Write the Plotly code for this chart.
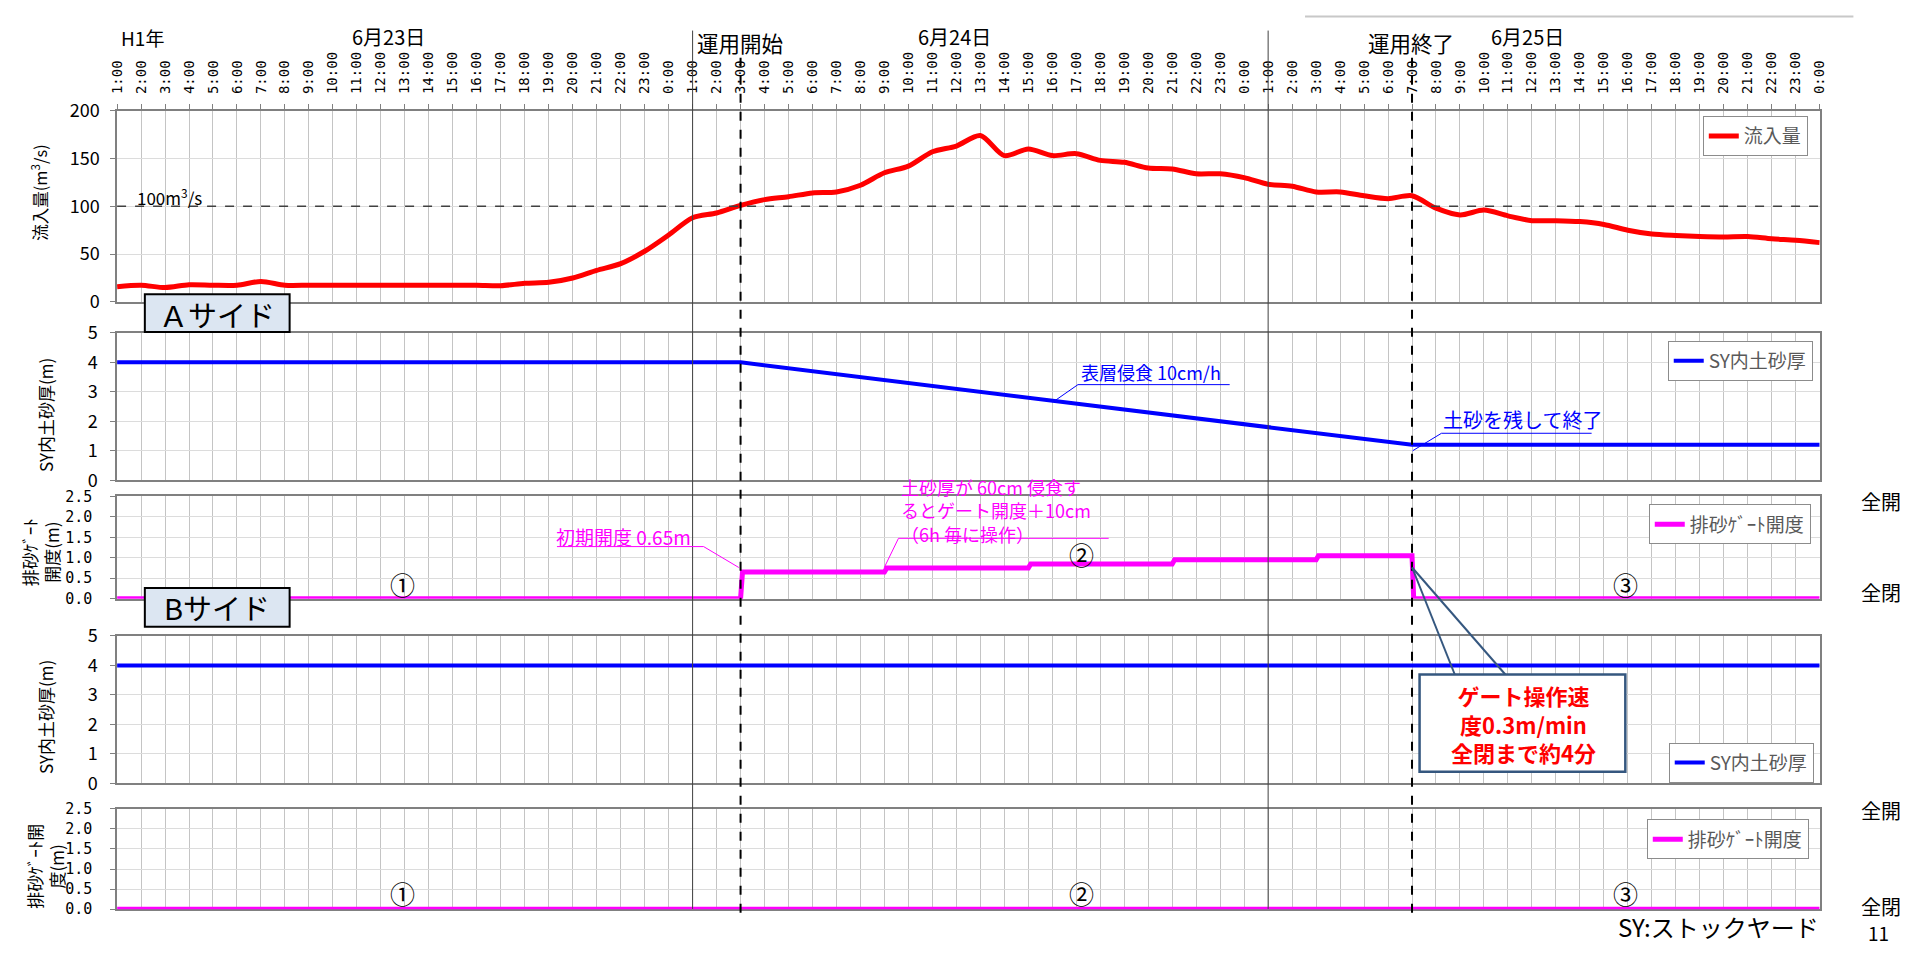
import plotly.graph_objects as go

W, H = 1909, 953
FONT = "Noto Sans CJK JP"
MONO = "DejaVu Sans Mono"

# ---------------- data ----------------
hours = list(range(72))                      # 6/23 1:00 ... 6/26 0:00 (hourly)
tick_labels = [f"{(h + 1) % 24}:00" for h in hours]

inflow = [16, 17.5, 15, 18, 17.5, 17.5, 21.5, 17.5, 17.5, 17.5, 17.5, 17.5, 17.5,
          17.5, 17.5, 17.5, 17, 19.5, 20.5, 25, 33, 40, 53, 70, 88, 93,
          101, 107, 110, 114, 115, 122, 135, 142, 157, 163, 174, 153, 160, 153,
          155, 148, 146, 140, 139, 134, 134, 130, 123, 121, 115, 115, 111, 108, 111,
          98, 91, 96, 90, 85, 85, 84, 81, 75, 71, 69.5, 68.5, 68, 68.5, 66, 64.5, 62]

sy_a_time = [0, 26, 54, 71]
sy_a_val = [4.0, 4.0, 1.2, 1.2]

gate_a_time = [0, 26, 26.08, 32, 32.1, 38, 38.1, 44, 44.1, 50, 50.1, 54.0, 54.07, 71]
gate_a_val = [0, 0, 0.65, 0.65, 0.75, 0.75, 0.85, 0.85, 0.95, 0.95, 1.05, 1.05, 0, 0]

sy_b_time = [0, 71]
sy_b_val = [4.0, 4.0]

gate_b_time = [0, 71]
gate_b_val = [0.0, 0.0]

day_lines = [24, 48]          # day separators
op_lines = [26, 54]           # 運用開始 / 運用終了
threshold = 100

# ---------------- helpers (pixel -> paper) ----------------
def px(x):
    return x / W

def py(y):
    return 1 - y / H

def dom(top, bottom):
    return [py(bottom), py(top)]

XDOM = [px(110), px(1827)]
panels = [(98.3, 295), (326.7, 478.3), (495, 600), (638.3, 790), (816, 919.3)]

fig = go.Figure()

fig.add_trace(go.Scatter(x=hours, y=inflow, mode="lines", name="流入量",
                         line=dict(color="#ff0000", width=5, shape="spline", smoothing=0.8),
                         xaxis="x", yaxis="y", legend="legend"))
fig.add_trace(go.Scatter(x=sy_a_time, y=sy_a_val, mode="lines", name="SY内土砂厚",
                         line=dict(color="#0000ff", width=4), cliponaxis=False,
                         xaxis="x2", yaxis="y2", legend="legend2"))
fig.add_trace(go.Scatter(x=gate_a_time, y=gate_a_val, mode="lines", name="排砂ｹﾞｰﾄ開度",
                         line=dict(color="#ff00ff", width=5), cliponaxis=False,
                         xaxis="x3", yaxis="y3", legend="legend3"))
fig.add_trace(go.Scatter(x=sy_b_time, y=sy_b_val, mode="lines", name="SY内土砂厚",
                         line=dict(color="#0000ff", width=4), cliponaxis=False,
                         xaxis="x4", yaxis="y4", legend="legend4"))
fig.add_trace(go.Scatter(x=gate_b_time, y=gate_b_val, mode="lines", name="排砂ｹﾞｰﾄ開度",
                         line=dict(color="#ff00ff", width=5), cliponaxis=False,
                         xaxis="x5", yaxis="y5", legend="legend5"))

GRIDX = "#c4c4c4"
GRIDY = "#dcdcdc"
AXC = "#808080"

layout = dict(width=W, height=H, margin=dict(l=0, r=0, t=0, b=0),
              paper_bgcolor="white", plot_bgcolor="white",
              font=dict(family=FONT, color="#000000"), showlegend=True)

yspecs = [
    dict(range=[0, 200], dtick=50, tickformat="d", ticklabelstandoff=7,
         tickfont=dict(size=18, family=FONT)),
    dict(range=[0, 5], dtick=1, tickformat="d", ticklabelstandoff=9,
         tickfont=dict(size=18, family=FONT)),
    dict(range=[0, 2.5], dtick=0.5, tickformat=".1f", ticklabelstandoff=15,
         tickfont=dict(size=15, family=MONO)),
    dict(range=[0, 5], dtick=1, tickformat="d", ticklabelstandoff=9,
         tickfont=dict(size=18, family=FONT)),
    dict(range=[0, 2.5], dtick=0.5, tickformat=".1f", ticklabelstandoff=15,
         tickfont=dict(size=15, family=MONO)),
]

for i, (top, bot) in enumerate(panels):
    n = "" if i == 0 else str(i + 1)
    xa = dict(domain=XDOM, range=[0, 71], anchor="y" + n, tickmode="array",
              tickvals=hours, ticktext=tick_labels, showgrid=True, gridcolor=GRIDX,
              gridwidth=1, showline=True, linecolor=AXC, linewidth=1.5, mirror=True,
              zeroline=False, layer="below traces")
    if i == 0:
        xa.update(side="top", tickangle=-90, ticks="outside", ticklen=5, tickcolor=AXC,
                  ticklabelstandoff=7,
                  tickfont=dict(family=MONO, size=14, color="#000000"))
    else:
        xa.update(showticklabels=False, ticks="", matches="x")
    layout["xaxis" + n] = xa
    ya = dict(domain=dom(top, bot), anchor="x" + n, showgrid=True, gridcolor=GRIDY,
              showline=True, linecolor=AXC, linewidth=1.5, mirror=True, zeroline=False,
              ticks="outside", ticklen=5, tickcolor=AXC, layer="below traces")
    ya.update(yspecs[i])
    layout["yaxis" + n] = ya

leg_common = dict(xanchor="right", yanchor="top", bgcolor="white", bordercolor="#8c8c8c",
                  borderwidth=1, font=dict(size=19, color="#595959", family=FONT),
                  itemwidth=30)
legend_pos = [(1815, 104), (1820, 335), (1818, 503), (1821, 748), (1816, 827)]
for i, (lx, ly) in enumerate(legend_pos):
    key = "legend" if i == 0 else f"legend{i + 1}"
    d = dict(leg_common)
    d.update(x=px(lx), y=py(ly))
    layout[key] = d

fig.update_layout(**layout)

shapes = []
annots = []

def text(t, x, y, size, color="#000000", xa="center", ya="middle", angle=0, align="center"):
    annots.append(dict(xref="paper", yref="paper", x=px(x), y=py(y), text=t, showarrow=False,
                       xanchor=xa, yanchor=ya, textangle=angle, align=align,
                       font=dict(size=size, color=color)))

def seg(x0, y0, x1, y1, color, width=1, ref=("paper", "paper"), dash=None):
    ln = dict(color=color, width=width)
    if dash:
        ln["dash"] = dash
    if ref == ("paper", "paper"):
        x0, x1, y0, y1 = px(x0), px(x1), py(y0), py(y1)
    shapes.append(dict(type="line", xref=ref[0], yref=ref[1], x0=x0, x1=x1, y0=y0, y1=y1, line=ln))

# day separators & operation lines
for d in day_lines:
    shapes.append(dict(type="line", xref="x", yref="paper", x0=d, x1=d, y0=py(16), y1=py(919),
                       line=dict(color="#404040", width=1)))
for d in op_lines:
    shapes.append(dict(type="line", xref="x", yref="paper", x0=d, x1=d, y0=py(44), y1=py(923),
                       line=dict(color="#000000", width=2, dash="dash")))

# threshold line
seg(0, threshold, 71, threshold, "#404040", 1.5, ref=("x", "y"), dash="dash")
annots.append(dict(xref="x", yref="y", x=0.73, y=110, text="100m<sup>3</sup>/s", showarrow=False,
                   xanchor="left", yanchor="middle", font=dict(size=17, color="#000000")))

# top gray line
seg(1308, 1.5, 1861, 1.5, "#c8c8c8", 2)

# side boxes
for (label, y0, y1, ty) in [("Ａサイド", 287, 326, 307), ("Bサイド", 589, 629, 609)]:
    shapes.append(dict(type="rect", xref="paper", yref="paper", x0=px(138), x1=px(284),
                       y0=py(y1), y1=py(y0), fillcolor="#dce6f2",
                       line=dict(color="#000000", width=2)))
    text(label, 211, ty, 29)

# header texts
text("H1年", 136, 23.5, 19)
text("6月23日", 384, 22.5, 20)
text("運用開始", 738, 28.5, 21.5)
text("6月24日", 954, 22.5, 20)
text("運用終了", 1414.5, 28.5, 21.5)
text("6月25日", 1532, 22.5, 20)

# y-axis titles
text("流入量(m<sup>3</sup>/s)", 31, 182, 16.5, angle=-90)
text("SY内土砂厚(m)", 38.5, 411, 17, angle=-90)
text("排砂ｹﾞｰﾄ<br>開度(m)", 33.5, 552, 17, angle=-90)
text("SY内土砂厚(m)", 38, 722, 17, angle=-90)
text("排砂ｹﾞｰﾄ開<br>度(m)", 37, 875, 17, angle=-90)

# right side labels
for t, y in [("全開", 500), ("全閉", 593.5), ("全開", 818), ("全閉", 916.5)]:
    text(t, 1867, y, 20, xa="left")
text("SY:ストックヤード", 1828, 937.5, 24, xa="right")
text("11", 1886, 943.5, 19)

# circled numbers
for xr, yr, yv in [("x3", "y3", 0.36), ("x5", "y5", 0.41)]:
    for t, hv in [("①", 11.9), ("②", 40.2), ("③", 62.9)]:
        yy = 1.1 if (t == "②" and xr == "x3") else yv
        annots.append(dict(xref=xr, yref=yr, x=hv, y=yy, text=t, showarrow=False,
                           xanchor="center", yanchor="middle", font=dict(size=25, color="#000000")))

# blue annotations (panel 2)
BLUE = "#0000ff"
text("表層侵食 10cm/h", 1080, 367.5, 18, color=BLUE, xa="left")
seg(1079, 380, 1232, 380, BLUE)
seg(1079, 380, 1053.6, 398, BLUE)
text("土砂を残して終了", 1445, 416, 20, color=BLUE, xa="left")
seg(1445.6, 430, 1597, 430, BLUE)
seg(1445.6, 430, 1416.5, 448, BLUE)

# magenta annotations (panel 3)
MAG = "#ff00ff"
text("初期開度 0.65m", 551, 536, 19, color=MAG, xa="left")
seg(553.6, 546.5, 701.5, 546.5, MAG)
seg(701.5, 546.5, 737, 568, MAG)
text("土砂厚が 60cm 侵食す<br>るとゲート開度＋10cm<br>（6h 毎に操作）", 899, 509.5, 18,
     color=MAG, xa="left", align="left")
seg(898, 538, 1110, 538, MAG)
seg(898, 538, 883.7, 568, MAG)

# gate speed callout
NAVY = "#35577f"
seg(1459, 678, 1416, 568, NAVY, 2)
seg(1510, 678, 1416, 568, NAVY, 2)
shapes.append(dict(type="rect", xref="paper", yref="paper", x0=px(1423.5), x1=px(1631),
                   y0=py(778), y1=py(678), fillcolor="white", line=dict(color=NAVY, width=2.5)))
text("<b>ゲート操作速<br>度0.3m/min<br>全閉まで約4分</b>", 1528, 728, 22, color="#ff0000")

fig.update_layout(shapes=shapes, annotations=annots)

fig.write_html("out.html", config={"displayModeBar": False},
               post_script="document.body.style.margin='0';document.body.style.overflow='hidden';")
